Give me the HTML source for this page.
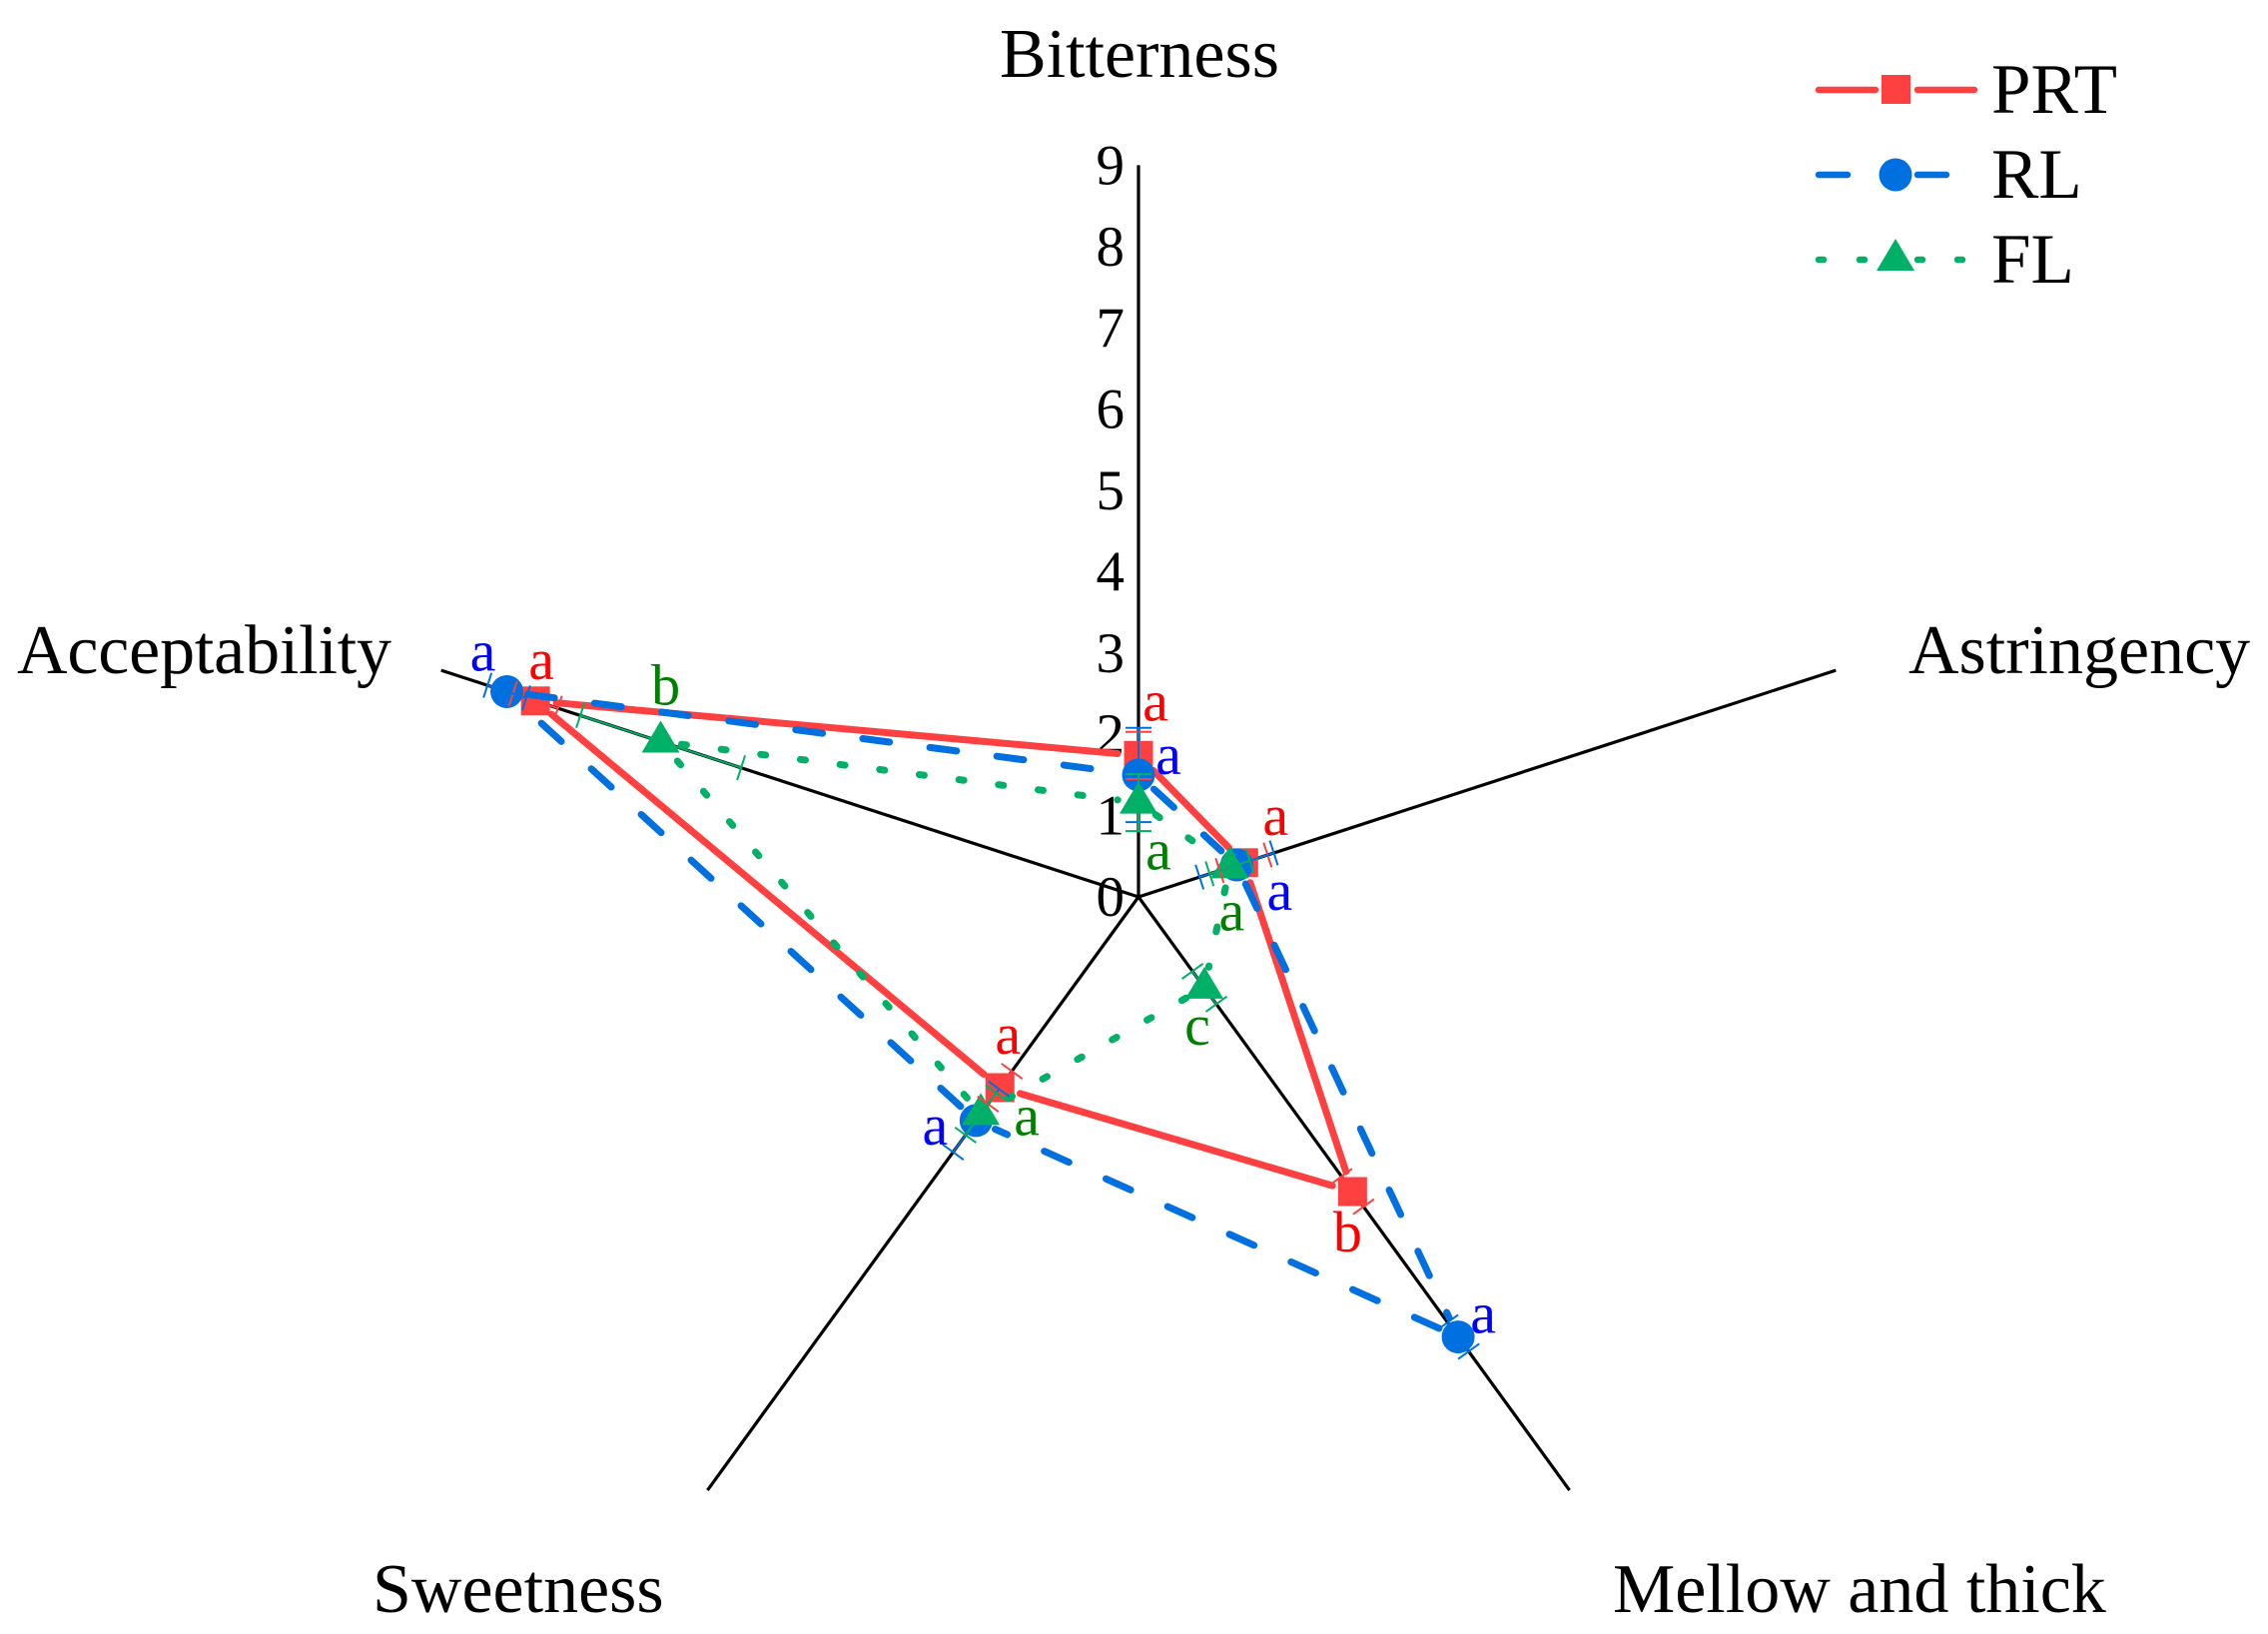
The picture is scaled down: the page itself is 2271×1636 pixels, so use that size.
<!DOCTYPE html>
<html>
<head>
<meta charset="utf-8">
<title>Radar chart</title>
<style>
html,body{margin:0;padding:0;background:#fff;}
svg{display:block;}
text{font-family:"Liberation Serif","DejaVu Serif",serif;}
</style>
</head>
<body>
<svg id="chart" xmlns="http://www.w3.org/2000/svg" width="2271" height="1636" viewBox="0 0 2271 1636">
  <rect x="0" y="0" width="2271" height="1636" fill="#fff"/>
  <g id="axes"></g>
  <g id="ticks"></g>
  <g id="series"></g>
  <g id="errors"></g>
  <g id="letters"></g>
  <g font-size="70" fill="#000">
    <text x="1141" y="77" text-anchor="middle">Bitterness</text>
    <text x="1911" y="674">Astringency</text>
    <text x="1615" y="1614">Mellow and thick</text>
    <text x="373" y="1614">Sweetness</text>
    <text x="17" y="674" textLength="375">Acceptability</text>
  </g>
  <g>
    <g>
      <line x1="1821" y1="90" x2="1878" y2="90" stroke="#ff4040" stroke-width="6.5" stroke-linecap="round"/>
      <line x1="1920" y1="90" x2="1977" y2="90" stroke="#ff4040" stroke-width="6.5" stroke-linecap="round"/>
      <rect x="1884" y="75" width="29" height="29" fill="#ff4040"/>
      <text x="1994" y="113" font-size="71" fill="#000">PRT</text>
    </g>
    <g>
      <line x1="1821" y1="175" x2="1850" y2="175" stroke="#0070e0" stroke-width="6.5" stroke-linecap="round"/>
      <line x1="1920" y1="175" x2="1949" y2="175" stroke="#0070e0" stroke-width="6.5" stroke-linecap="round"/>
      <circle cx="1898" cy="175" r="16.5" fill="#0070e0"/>
      <text x="1994" y="198" font-size="71" fill="#000">RL</text>
    </g>
    <g>
      <line x1="1821" y1="260" x2="1826" y2="260" stroke="#00b066" stroke-width="6.5" stroke-linecap="round"/>
      <line x1="1862" y1="260" x2="1867" y2="260" stroke="#00b066" stroke-width="6.5" stroke-linecap="round"/>
      <line x1="1920" y1="260" x2="1925" y2="260" stroke="#00b066" stroke-width="6.5" stroke-linecap="round"/>
      <line x1="1960" y1="260" x2="1965" y2="260" stroke="#00b066" stroke-width="6.5" stroke-linecap="round"/>
      <polygon points="1898,239 1917,271 1879,271" fill="#00b066"/>
      <text x="1994" y="283" font-size="71" fill="#000">FL</text>
    </g>
  </g>
</svg>
<script>
const categories = ["Bitterness", "Astringency", "Mellow and thick", "Sweetness", "Acceptability"];
const tickLabels = [0, 1, 2, 3, 4, 5, 6, 7, 8, 9];
const prtValues = [1.74, 1.36, 4.48, 2.9, 7.8];
const rlValues = [1.5, 1.27, 6.69, 3.4, 8.17];
const flValues = [1.16, 1.18, 1.38, 3.3, 6.18];
const prtErrors = [0.29, 0.31, 0.23, 0.25, 0.29];
const rlErrors = [0.58, 0.48, 0.22, 0.48, 0.25];
const flErrors = [0.35, 0.26, 0.25, 0.32, 1.04];
const prtLetters = ["a", "a", "b", "a", "a"];
const rlLetters = ["a", "a", "a", "a", "a"];
const flLetters = ["a", "a", "c", "a", "b"];

// Layout constants (not data)
const NS = "http://www.w3.org/2000/svg";
const CX = 1140, CY = 898, UNIT = 81.4, AXIS_MAX = 9, SIDE_AXIS_MAX = 9.02;
const LINE_GAP = 21;
const LETTER_DROP = 3;
const seriesDefs = [
  {key: "prt", values: prtValues, errors: prtErrors, letters: prtLetters, color: "#ff4040", text: "#ff0000", dash: null, marker: "square",
   nudges: [[17,-38],[32,-31],[-5,57],[8,-37],[6,-25]]},
  {key: "rl", values: rlValues, errors: rlErrors, letters: rlLetters, color: "#0070e0", text: "#0000ff", dash: "27 40.7", marker: "circle",
   nudges: [[30,-4],[43,42],[25,-7],[-41,21],[-24,-24]]},
  {key: "fl", values: flValues, errors: flErrors, letters: flLetters, color: "#00b066", text: "#008000", dash: "5 35", marker: "triangle",
   nudges: [[20,64],[2,60],[-7,54],[46,18],[5,-40]]}
];

function angleOf(i) { return i * 2 * Math.PI / categories.length; }
function radius(v) { return v * UNIT; }
function polar(i, v) {
  const a = angleOf(i), r = radius(v);
  return {x: CX + r * Math.sin(a), y: CY - r * Math.cos(a)};
}
function make(tag, attrs, parent) {
  const el = document.createElementNS(NS, tag);
  for (const k in attrs) el.setAttribute(k, attrs[k]);
  parent.appendChild(el);
  return el;
}
function slug(s) { return s.toLowerCase().replace(/\s+/g, "-"); }

const axesG = document.getElementById("axes");
const ticksG = document.getElementById("ticks");
const seriesG = document.getElementById("series");
const errorsG = document.getElementById("errors");
const lettersG = document.getElementById("letters");

categories.forEach(function (c, i) {
  const end = polar(i, i === 0 ? AXIS_MAX : SIDE_AXIS_MAX);
  const el = make("line", {x1: CX, y1: CY, x2: end.x, y2: end.y, stroke: "#000", "stroke-width": 3.2}, axesG);
  
  
});

tickLabels.forEach(function (t) {
  const p = polar(0, t);
  const el = make("text", {x: 1126, y: p.y + 19, "text-anchor": "end", "font-size": 57, fill: "#000"}, ticksG);
  el.textContent = t;
  
  
});

seriesDefs.forEach(function (s) {
  const g = make("g", {}, seriesG);
  
  
  const pts = s.values.map(function (v, i) { return polar(i, v); });
  pts.forEach(function (p, i) {
    const q = pts[(i + 1) % pts.length];
    const dx = q.x - p.x, dy = q.y - p.y, len = Math.hypot(dx, dy);
    const ux = dx / len, uy = dy / len;
    const attrs = {
      x1: p.x + ux * LINE_GAP, y1: p.y + uy * LINE_GAP,
      x2: q.x - ux * LINE_GAP, y2: q.y - uy * LINE_GAP,
      stroke: s.color, "stroke-width": 7, "stroke-linecap": "round"
    };
    if (s.dash) attrs["stroke-dasharray"] = s.dash;
    const seg = make("line", attrs, g);
    
    
  });
  pts.forEach(function (p, i) {
    let m;
    if (s.marker === "square") {
      m = make("rect", {x: p.x - 14.5, y: p.y - 14.5, width: 29, height: 29, fill: s.color}, g);
    } else if (s.marker === "circle") {
      m = make("circle", {cx: p.x, cy: p.y, r: 16.5, fill: s.color}, g);
    } else {
      m = make("polygon", {points: p.x + "," + (p.y - 21) + " " + (p.x + 19) + "," + (p.y + 11) + " " + (p.x - 19) + "," + (p.y + 11), fill: s.color}, g);
    }
    
    
  });
});

seriesDefs.forEach(function (s) {
  s.values.forEach(function (v, i) {
    const a = angleOf(i);
    const lo = polar(i, v - s.errors[i]);
    const hi = polar(i, v + s.errors[i]);
    const px = Math.cos(a) * 13, py = Math.sin(a) * 13;
    const g = make("g", {stroke: s.color, "stroke-width": 2, fill: "none"}, errorsG);
    
    
    make("line", {x1: lo.x, y1: lo.y, x2: hi.x, y2: hi.y}, g);
    make("line", {x1: lo.x - px, y1: lo.y - py, x2: lo.x + px, y2: lo.y + py}, g);
    make("line", {x1: hi.x - px, y1: hi.y - py, x2: hi.x + px, y2: hi.y + py}, g);
  });
});

seriesDefs.forEach(function (s) {
  s.letters.forEach(function (l, i) {
    const p = polar(i, s.values[i]);
    const n = s.nudges[i];
    const el = make("text", {x: p.x + n[0], y: p.y + n[1] + LETTER_DROP, "text-anchor": "middle", "font-size": 58, fill: s.text}, lettersG);
    el.textContent = l;
    
    
  });
});
</script>
</body>
</html>
